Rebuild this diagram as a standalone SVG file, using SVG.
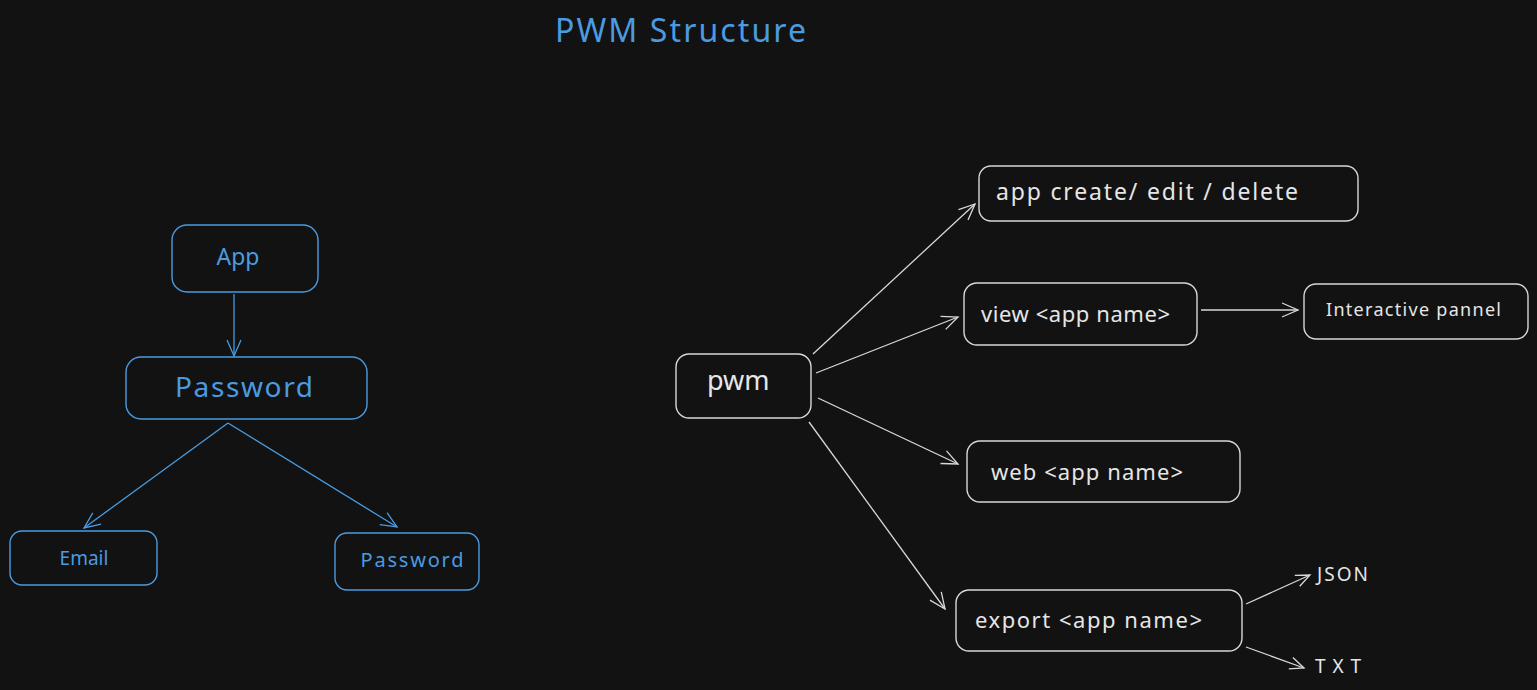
<svg xmlns="http://www.w3.org/2000/svg" width="1537" height="690" viewBox="0 0 1537 690">
<defs>
<style>
.bg{fill:#121212}
.nb{fill:none;stroke:#4a9be0;stroke-width:1.4}
.nw{fill:none;stroke:#d8d8d8;stroke-width:1.4}
.tb{fill:#4a9be0;font-family:"Noto Sans","Liberation Sans",sans-serif}
.tw{fill:#e6e6e6;font-family:"Noto Sans","Liberation Sans",sans-serif}
.cb{fill:none;stroke:#4a9be0;stroke-width:1.3}
.cw{fill:none;stroke:#d8d8d8;stroke-width:1.3}
</style>
<marker id="ab" viewBox="0 0 20 20" refX="18" refY="10" markerWidth="20" markerHeight="20" markerUnits="userSpaceOnUse" orient="auto">
<path d="M2 3 L18 10 L2 17" fill="none" stroke="#4a9be0" stroke-width="1.3"/>
</marker>
<marker id="aw" viewBox="0 0 20 20" refX="18" refY="10" markerWidth="20" markerHeight="20" markerUnits="userSpaceOnUse" orient="auto">
<path d="M2 3 L18 10 L2 17" fill="none" stroke="#d8d8d8" stroke-width="1.3"/>
</marker>
<marker id="aws" viewBox="0 0 20 20" refX="18" refY="10" markerWidth="20" markerHeight="20" markerUnits="userSpaceOnUse" orient="auto">
<path d="M4 4 L18 10 L4 16" fill="none" stroke="#d8d8d8" stroke-width="1.3"/>
</marker>
</defs>
<rect class="bg" x="0" y="0" width="1537" height="690"/>
<g id="title"><text class="tb" x="555" y="42" font-size="32" textLength="251">PWM Structure</text></g>

<g id="connectors">
<line class="cb" x1="234" y1="294" x2="234" y2="356" marker-end="url(#ab)"/>
<line class="cb" x1="228" y1="423" x2="84" y2="528" marker-end="url(#ab)"/>
<line class="cb" x1="228" y1="423" x2="397" y2="527" marker-end="url(#ab)"/>
<line class="cw" x1="813" y1="354" x2="975" y2="204" marker-end="url(#aw)"/>
<line class="cw" x1="816" y1="373" x2="958" y2="317" marker-end="url(#aw)"/>
<line class="cw" x1="1201" y1="310" x2="1298" y2="310" marker-end="url(#aw)"/>
<line class="cw" x1="818" y1="398" x2="958" y2="464" marker-end="url(#aw)"/>
<line class="cw" x1="809" y1="422" x2="945" y2="609" marker-end="url(#aw)"/>
<line class="cw" x1="1246" y1="604" x2="1310" y2="575" marker-end="url(#aws)"/>
<line class="cw" x1="1246" y1="647" x2="1304" y2="668" marker-end="url(#aws)"/>
</g>

<g id="app"><rect class="nb" x="172" y="225" width="146" height="67" rx="15"/><text class="tb" x="238" y="265" font-size="23" text-anchor="middle">App</text></g>
<g id="password"><rect class="nb" x="126" y="357" width="241" height="62" rx="15"/><text class="tb" x="244" y="397" font-size="28" text-anchor="middle" textLength="138">Password</text></g>
<g id="email"><rect class="nb" x="10" y="531" width="147" height="54" rx="12"/><text class="tb" x="84" y="565" font-size="19" text-anchor="middle">Email</text></g>
<g id="password2"><rect class="nb" x="335" y="533" width="144" height="57" rx="12"/><text class="tb" x="412" y="567" font-size="20" text-anchor="middle" textLength="103">Password</text></g>

<g id="pwm"><rect class="nw" x="676" y="354" width="135" height="64" rx="13"/><text class="tw" x="707" y="390" font-size="27">pwm</text></g>
<g id="app-create"><rect class="nw" x="979" y="166" width="379" height="55" rx="12"/><text class="tw" x="996" y="200" font-size="23" textLength="302">app create/ edit / delete</text></g>
<g id="view"><rect class="nw" x="964" y="283" width="233" height="62" rx="13"/><text class="tw" x="981" y="322" font-size="22" textLength="189">view &lt;app name&gt;</text></g>
<g id="interactive"><rect class="nw" x="1304" y="284" width="224" height="55" rx="12"/><text class="tw" x="1326" y="316" font-size="18" textLength="175">Interactive pannel</text></g>
<g id="web"><rect class="nw" x="967" y="441" width="273" height="61" rx="13"/><text class="tw" x="991" y="480" font-size="22" textLength="192">web &lt;app name&gt;</text></g>
<g id="export"><rect class="nw" x="956" y="590" width="286" height="61" rx="13"/><text class="tw" x="975" y="628" font-size="22" textLength="227">export &lt;app name&gt;</text></g>
<g id="json"><text class="tw" x="1317" y="581" font-size="19" textLength="51">JSON</text></g>
<g id="txt"><text class="tw" x="1315" y="673" font-size="19" textLength="46">TXT</text></g>
</svg>
